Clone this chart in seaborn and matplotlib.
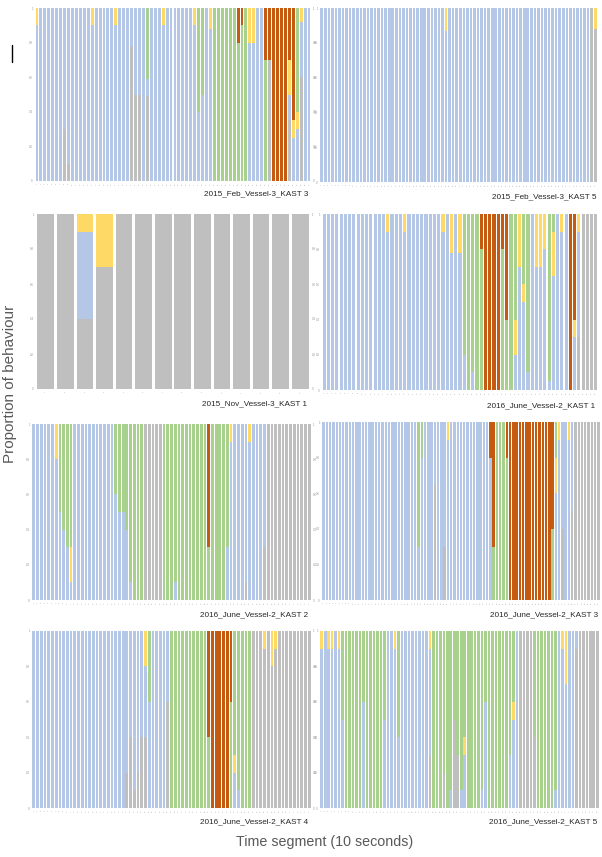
import matplotlib
matplotlib.use("Agg")
import pandas as pd
import matplotlib.pyplot as plt
import seaborn as sns
from matplotlib.lines import Line2D

sns.set_theme(style="white")
plt.rcParams["font.family"] = ["Liberation Sans", "DejaVu Sans"]

W, H = 602, 857

# behaviour classes, stacked bottom -> top
STACK = ["gray", "blue", "yellow", "green", "orange"]
COLORS = {"gray": "#bfbfbf", "blue": "#b4c7e7", "yellow": "#ffd966",
          "green": "#a9d18e", "orange": "#c55a11"}

def run(a, b, v=1.0):
    return dict.fromkeys(range(a, b), v)

# --- data: proportion per 10 s segment (blue = remainder to 1) ---
feb3_n = 70
feb3_gray = {7: .3, 8: .1, 24: .78, 25: .5, 26: .5, 28: .49, 59: .7, 64: .35, 67: .6}
feb3_yellow = {0: .1, 14: .1, 20: .1, 32: .1, 40: .1, 44: .12, 54: .2, 55: .2,
               64: .2, 65: .1, 66: .1, 67: .08}
feb3_green = {28: .41, 41: .6, 42: .5, **run(45, 51), 51: .8, 52: .9, 53: 1, 58: .7, 66: .6}
feb3_orange = {51: .2, 52: .1, 58: .3, 59: .3, **run(60, 64), 64: .3, 65: .65}

feb5_n = 78
feb5_gray = {76: 1, 77: .88}
feb5_yellow = {35: .13, 77: .12}
feb5_green = {}
feb5_orange = {}

nov1_n = 14
nov1_gray = {**run(0, 14), 2: .4, 3: .7}
nov1_yellow = {2: .1, 3: .3}
nov1_green = {}
nov1_orange = {}

jun1_n = 65
jun1_gray = {60: .3, **run(61, 65)}
jun1_yellow = {15: .1, 19: .1, 28: .1, 30: .22, 32: .22, 45: .2, 46: .3, 47: .1,
               50: .3, 51: .3, 52: .2, 54: .25, 56: .1, 59: .1, 60: .1}
jun1_green = {33: .8, 34: 1, 35: .9, 36: 1, 37: .8, 42: .8, 43: .4, 44: 1, 45: .6,
              47: .4, 48: .9, 53: .95, 54: .1}
jun1_orange = {37: .2, **run(38, 42), 42: .2, 43: .6, 58: 1, 59: .6}

jun2_n = 75
jun2_gray = {**run(30, 35), 57: .1, 62: .3, **run(63, 75)}
jun2_yellow = {6: .2, 10: .2, 53: .1, 58: .1}
jun2_green = {7: .5, 8: .6, 9: .7, 10: .7, 22: .4, 23: .5, 24: .5, 25: .6, 26: .9,
              **run(27, 30), **run(35, 52), 38: .9, 47: .3, 52: .7}
jun2_orange = {47: .7}

jun3_n = 85
jun3_gray = {34: .65, 37: .3, 73: .4, 76: .5, **run(77, 85)}
jun3_yellow = {38: .1, 71: .2, 72: .1, 75: .1}
jun3_green = {29: .7, 30: .2, 52: .3, **run(53, 56), 56: .8, 70: .4, 71: .2}
jun3_orange = {51: .2, 52: .7, 56: .2, **run(57, 70), 70: .6}

jun4_n = 75
jun4_gray = {25: .2, 26: .4, 27: .1, 28: .2, 29: .4, 30: .4, 36: .6,
             **run(59, 75), 62: .9, 64: .8, 65: .9}
jun4_yellow = {30: .2, 54: .1, 62: .1, 64: .2, 65: .1}
jun4_green = {31: .4, **run(37, 47), 47: .4, 53: .6, 54: .7, 55: .9, **run(56, 59)}
jun4_orange = {47: .6, **run(48, 53), 53: .4}

jun5_n = 80
jun5_gray = {31: .3, 35: .2, 38: .5, 39: .3, **run(57, 61), 61: .4, 73: .9, **run(74, 80)}
jun5_yellow = {0: .1, 2: .1, 3: .1, 5: .1, 21: .1, 31: .1, 41: .1, 55: .1, 69: .1, 70: .3}
jun5_green = {6: .5, **run(7, 12), 12: .4, **run(13, 18), 18: .5, 22: .6, **run(32, 35),
              35: .8, 36: 1, 37: .9, 38: .5, 39: .7, 40: .9, 41: .6, **run(42, 46),
              46: .9, 47: .4, **run(48, 54), 54: .7, 55: .4, 61: .6, **run(62, 67), 67: .9}
jun5_orange = {}

# title, n, series, axes box in px (x0, x1, ytop, ybottom), title anchor (x_right, y), left column?
panels = [
    ("2015_Feb_Vessel-3_KAST 3", feb3_n, (feb3_gray, feb3_yellow, feb3_green, feb3_orange),
     (35, 311, 8, 181), (308, 194), True),
    ("2015_Feb_Vessel-3_KAST 5", feb5_n, (feb5_gray, feb5_yellow, feb5_green, feb5_orange),
     (320, 597, 8, 182), (597, 197), False),
    ("2015_Nov_Vessel-3_KAST 1", nov1_n, (nov1_gray, nov1_yellow, nov1_green, nov1_orange),
     (36, 310, 214, 389), (307, 404), True),
    ("2016_June_Vessel-2_KAST 1", jun1_n, (jun1_gray, jun1_yellow, jun1_green, jun1_orange),
     (322, 598, 214, 390), (595, 406), False),
    ("2016_June_Vessel-2_KAST 2", jun2_n, (jun2_gray, jun2_yellow, jun2_green, jun2_orange),
     (32, 311, 424, 600), (308, 615), True),
    ("2016_June_Vessel-2_KAST 3", jun3_n, (jun3_gray, jun3_yellow, jun3_green, jun3_orange),
     (322, 600, 422, 600), (598, 615), False),
    ("2016_June_Vessel-2_KAST 4", jun4_n, (jun4_gray, jun4_yellow, jun4_green, jun4_orange),
     (32, 311, 631, 808), (308, 822), True),
    ("2016_June_Vessel-2_KAST 5", jun5_n, (jun5_gray, jun5_yellow, jun5_green, jun5_orange),
     (320, 599, 631, 808), (597, 822), False),
]

fig = plt.figure(figsize=(W / 100, H / 100), dpi=100, facecolor="white")

for title, n, (gray, yellow, green, orange), (x0, x1, yt, yb), (tx, ty), left_col in panels:
    ax = fig.add_axes([x0 / W, 1 - yb / H, (x1 - x0) / W, (yb - yt) / H])
    rows = []
    for i in range(n):
        g, y, gr, o = gray.get(i, 0), yellow.get(i, 0), green.get(i, 0), orange.get(i, 0)
        b = max(0.0, 1 - g - y - gr - o)
        for cat, v in zip(STACK, (g, b, y, gr, o)):
            rows.append((i, cat, v))
    df = pd.DataFrame(rows, columns=["segment", "behaviour", "prop"])
    sns.histplot(data=df, x="segment", hue="behaviour", weights="prop",
                 multiple="stack", discrete=True, shrink=0.86 if n < 20 else 0.74,
                 hue_order=STACK[::-1], palette=COLORS, alpha=1,
                 linewidth=0, legend=False, ax=ax)
    ax.set_xlim(-0.5, n - 0.5)
    ax.set_ylim(0, 1)
    ax.set_xticks(range(n))
    ax.set_xticklabels([str(i + 1) for i in range(n)], fontsize=1.5, rotation=90, color="#a0a0a0")
    ax.set_yticks([0, .2, .4, .6, .8, 1])
    ax.set_yticklabels(["0", "0.2", "0.4", "0.6", "0.8", "1"], fontsize=2, color="#909090")
    ax.tick_params(length=0, pad=1.5, labelright=left_col)
    ax.set_xlabel("")
    ax.set_ylabel("")
    for s in ax.spines.values():
        s.set_visible(False)
    fig.text(tx / W, 1 - ty / H, title, ha="right", va="center", fontsize=5.9, color="#262626")

fig.text(325 / W, 1 - 842 / H, "Time segment (10 seconds)", ha="center", va="center",
         fontsize=10.3, color="#595959")
fig.text(10 / W, 1 - 384 / H, "Proportion of behaviour", ha="center", va="center",
         rotation=90, fontsize=11, color="#595959")
fig.add_artist(Line2D([12 / W, 12 / W], [1 - 45 / H, 1 - 62 / H], color="black", lw=1))

fig.savefig("out.png", dpi=100, facecolor="white")
